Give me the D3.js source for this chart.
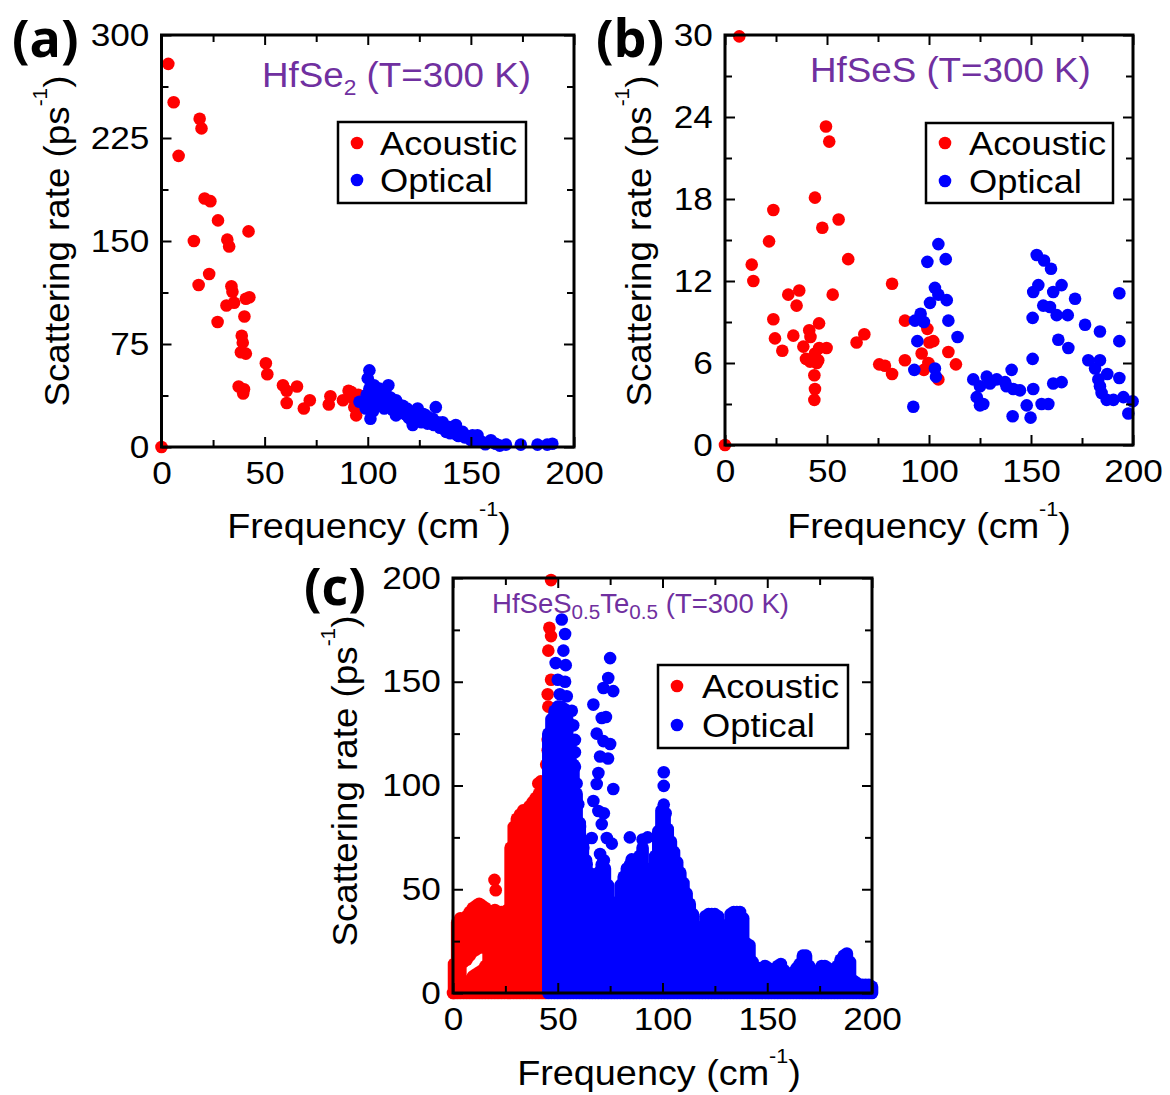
<!DOCTYPE html>
<html>
<head>
<meta charset="utf-8">
<script src="https://cdn.jsdelivr.net/npm/d3@7"></script>
<style>
  body { margin: 0; background: #fff; }
  svg { display: block; }
  text { font-family: "Liberation Sans", Arial, Helvetica, sans-serif; }
</style>
</head>
<body>
<svg id="fig" width="1170" height="1095"></svg>
<script>
// ---- data ----

// (a) HfSe2, [frequency cm-1, scattering rate ps-1]
var acousticA = [[0,0],[3.3,279],[5.9,251],[8.3,212],[18.5,239],[19.4,232],[15.7,150],[20.9,181],[23.7,179],
  [27.4,165],[31.9,151],[32.8,146],[42.2,157],[23.1,126],[18,118],[33.9,117],[34.4,113],[31.5,103],[35.2,105],
  [40.9,108],[42.6,109],[27.2,91],[40.2,95],[38.9,81],[39.4,76],[38.5,69],[40.9,68],[50.6,61],[51.3,53],
  [37.4,44],[40,42],[39.6,39],[58.9,45],[60.7,41],[65.7,44],[60.7,32],[69,28],[71.9,34],[81.9,37],[81.1,31],
  [88,34],[90.7,41],[92.6,36],[94.4,23],[93.5,29],[95.4,38],[92,40],[94,33]];
var opticalA = [[96,33],[97.6,33],[99,28],[99.5,38],[100,50],[100.8,55.8],[100.8,42.5],[101.3,20.6],[102,35],
  [102.5,26],[103,45],[104,30],[104.5,38],[105.6,42.5],[106,33],[107.3,35],[108,28],[108.5,40],[110,45],[110,32],
  [111,36],[112,27],[113.7,34],[113.7,23],[115,31],[116,26],[117,30],[118,24],[119,28],[120,21],[121.8,16],
  [122,24],[123,20],[124.2,28],[125,22],[126,18],[127,24],[128.2,23],[129,17],[130,21],[131.5,20.6],[132,16],
  [133,29],[134,18],[135,14],[136.3,18],[137,13],[138,11],[139.5,14.6],[140,10],[141,12],[142.7,16],[143,9],
  [144,8],[145,11],[146,11],[147,7],[148,8],[150,5],[150.8,8.5],[152,4],[153.2,8.5],[155.6,3.6],[157,2],
  [159.7,4.9],[162,2.4],[164,1],[167,1.7],[174.2,1.7],[182.3,1.7],[187,1.7],[189.5,2.4]];

// (b) HfSeS
var acousticB = [[0,0],[7,29.9],[13.1,13.2],[13.9,12],[21.6,14.9],[23.7,17.2],[31,11],[36.4,11.3],[35.1,10.2],
  [23.7,9.2],[24.5,7.8],[28.1,6.9],[33.5,8],[38.4,7.2],[44.1,18.1],[47.7,15.9],[49.5,23.3],[51.1,22.2],
  [55.7,16.5],[60.4,13.6],[52.8,11],[41.3,8.4],[41.9,7.9],[46.1,8.9],[39.7,6.3],[41.7,6.1],[44.1,6.7],
  [46.2,7.1],[49.8,7.1],[45,6],[45.7,6.2],[43.8,5.1],[44.1,4.1],[43.8,3.3],[64.5,7.5],[68.3,8.1],[75.6,5.9],
  [78.4,5.8],[81.9,5.2],[81.9,11.8],[88.2,9.1],[88.2,6.2],[99.2,8.5],[100.2,7.5],[102.1,7.6],[96.4,6.7],
  [97.5,5.5],[99.7,6],[104.6,4.8],[109.5,6.8],[113.2,5.9]];
var opticalB = [[92.3,2.8],[92.8,5.5],[94.3,7.6],[93.1,9.1],[95.9,9.6],[97.5,9],[99.2,13.4],[104.6,14.7],
  [108.2,13.6],[102.9,11.5],[104.6,11],[100.5,10.4],[108.7,10.6],[109.5,9.1],[114,7.9],[102.9,5.6],[103.4,5],
  [121.7,4.8],[125,4.3],[128.3,5],[123.4,3.5],[126.6,3],[125,2.9],[129.9,4.5],[133.2,4.8],[137.3,4.6],
  [140.5,5.5],[138,4.3],[141.3,4.1],[144.6,4],[141,2.1],[147.9,2.9],[149.8,2],[151.1,4.1],[150.8,6.3],
  [150.8,9.3],[151.1,11.2],[153.6,11.7],[152.8,13.9],[156.4,13.5],[159.8,12.9],[156,10.2],[159.3,10.1],
  [160.9,11.2],[165,11.7],[162.6,9.5],[168,9.5],[171.6,10.7],[163.4,7.7],[168.3,7.1],[160.9,4.5],[165,4.6],
  [155.2,3],[158.5,3],[176.5,8.8],[183.8,8.3],[178.1,6.2],[183.8,6.2],[181.4,5.6],[187.4,5.2],[183,4.8],
  [183.8,4.3],[184.6,3.8],[187.1,3.3],[190.4,3.3],[193.3,11.1],[193.3,7.6],[193.3,4.9],[195.3,3.5],
  [197.7,2.3],[199.8,3.2]];

// (c) HfSeS0.5Te0.5: isolated points
var acousticC = [[0,0],[1.3,10],[19.8,54.5],[20.4,49.5],[46.8,199],[46,176],[46.8,172],[45.5,165],[46.8,151],
  [45.2,144],[45.5,138],[45.2,122],[45.2,117],[44.5,110],[40.7,101],[41.9,102]];
var opticalC = [[51.9,180],[53.5,173],[52.7,165],[49,159],[53.8,158],[50,151],[53.5,150],[54.3,143],[51,144],
  [56.7,136],[57.4,129],[58.2,122],[58.2,116],[58.2,109],[59,101],[59.8,91],[60.6,80],[62.2,70],[63.8,62],
  [65.4,51],[75,161.4],[74.1,151.8],[71.8,147],[76.5,145.5],[67,139],[71,132.5],[73,133],[68.6,125],
  [71.8,121.4],[75,120],[70.2,114],[74,113],[69.4,106],[68.6,100.7],[76.5,98.3],[67,92.5],[69.4,87.7],
  [72,86.6],[71,81.4],[66.2,74.7],[73.4,74.7],[75.8,72],[70.2,67],[72,64],[84.4,75],[85.3,64.4],[92.9,75],
  [90.5,74],[100.6,106.4],[100.6,99.8],[100.6,90.8],[101.5,86.6]];

// (c) solid clouds: [frequency, lowest rate, highest rate] per narrow frequency column
var acousticBandsC = [[0.5,0,14],[2,0,34],[3.5,0,36],[5,0,4],[5,15,35],[6.5,0,5],[6.5,16,37],[8,0,6],[8,18,39],
  [9.5,0,8],[9.5,20,41],[11,0,9],[11,21,42],[12.5,0,10],[12.5,22,43],[14,0,11],[14,22,42],[15.5,0,13],
  [15.5,23,41],[17,0,39],[18.5,0,38],[20,0,40],[21.5,0,38],[23,0,39],[24.5,0,37],[26,0,40],[27.5,0,70],
  [29,0,80],[30.5,0,84],[32,0,86],[33.5,0,88],[35,0,88],[36.5,0,90],[38,0,92],[39.5,0,94],[41,0,96],
  [42.5,0,98],[44,0,100]];
var opticalBandsC = [[45.5,0,125],[47,0,132],[48.5,0,136],[50,0,138],[51.5,0,138],[53,0,137],[54.5,0,132],
  [56,0,122],[57.5,0,110],[59,0,96],[60.5,0,82],[62,0,72],[63.5,0,64],[65,0,58],[66.5,0,55],[68,0,52],
  [69.5,0,58],[71,0,62],[72.5,0,60],[74,0,52],[75.5,0,44],[77,0,18],[78.5,0,40],[80,0,52],[81.5,0,56],
  [83,0,60],[84.5,0,62],[86,0,58],[87.5,0,60],[89,0,66],[90.5,0,70],[92,0,60],[93.5,0,45],[95,0,52],
  [96.5,0,66],[98,0,78],[99.5,0,88],[101,0,85],[102.5,0,79],[104,0,73],[105.5,0,68],[107,0,63],[108.5,0,58],
  [110,0,53],[111.5,0,48],[113,0,43],[114.5,0,38],[116,0,17],[117.5,0,22],[119,0,32],[120.5,0,37],
  [122,0,38],[123.5,0,38],[125,0,38],[126.5,0,37],[128,0,33],[129.5,0,19],[131,0,32],[132.5,0,38],
  [134,0,39],[135.5,0,39],[137,0,39],[138.5,0,36],[140,0,24],[141.5,0,23],[143,0,15],[144.5,0,12],
  [146,0,12],[147.5,0,12],[149,0,13],[150.5,0,12],[152,0,10],[153.5,0,11],[155,0,13],[156.5,0,14],
  [158,0,11],[159.5,0,9],[161,0,8],[162.5,0,10],[164,0,12],[165.5,0,14],[167,0,18],[168.5,0,18],
  [170,0,13],[171.5,0,9],[173,0,9],[174.5,0,11],[176,0,13],[177.5,0,13],[179,0,12],[180.5,0,9],
  [182,0,11],[183.5,0,13],[185,0,16],[186.5,0,18],[188,0,19],[189.5,0,15],[191,0,6],[192.5,0,5],
  [194,0,4],[195.5,0,4],[197,0,4],[198.5,0,4],[200,0,3]];

// ticks
var freqMajor = [0, 50, 100, 150, 200];
var freqMinor = [25, 75, 125, 175];
var rateMajorA = [0, 75, 150, 225, 300];
var rateMinorA = [37.5, 112.5, 187.5, 262.5];
var rateMajorB = [0, 6, 12, 18, 24, 30];
var rateMinorB = [3, 9, 15, 21, 27];
var rateMajorC = [0, 50, 100, 150, 200];
var rateMinorC = [25, 75, 125, 175];

var seriesNames = ["Acoustic", "Optical"];

// ---- drawing ----
var RED = "#ff0000", BLUE = "#0000ff", PURPLE = "#7030a0";
var R = 6.3;
var svg = d3.select("#fig");

// text with sub/superscript parts, stretched a little horizontally like the original font
function addText(g, x, y, parts, size, sx, opt) {
  opt = opt || {};
  var t = g.append("text")
    .attr("transform", "translate(" + x + "," + y + ")" + (opt.rotate ? " rotate(-90)" : "") + " scale(" + sx + ",1)")
    .attr("font-size", size)
    .attr("fill", opt.fill || "#000")
    .attr("text-anchor", opt.anchor || "start")
    .attr("font-weight", opt.weight || "normal");
  if (opt.family) t.style("font-family", opt.family);
  var shift = 0;
  parts.forEach(function(p) {
    var s = typeof p === "string" ? p : p[0];
    var kind = typeof p === "string" ? "" : p[1];
    var target = 0, fs = size;
    if (kind === "sub") { target = size * 0.24; fs = size * (opt.subScale || 0.62); }
    if (kind === "sup") { target = -size * 0.62; fs = size * 0.57; }
    t.append("tspan").attr("dy", target - shift).attr("font-size", fs).text(s);
    shift = target;
  });
  return t;
}

function drawPanel(p) {
  var g = svg.append("g");
  var x = d3.scaleLinear().domain([0, 200]).range([p.left, p.right]);
  var y = d3.scaleLinear().domain([0, p.yMax]).range([p.bottom, p.top]);

  function bands(data, color) {
    g.append("g").selectAll("line").data(data || []).join("line")
      .attr("x1", d => x(d[0])).attr("x2", d => x(d[0]))
      .attr("y1", d => y(d[1])).attr("y2", d => y(d[2]))
      .attr("stroke", color).attr("stroke-width", 2 * R).attr("stroke-linecap", "round");
  }
  function dots(data, color) {
    g.append("g").selectAll("circle").data(data).join("circle")
      .attr("cx", d => x(d[0])).attr("cy", d => y(d[1])).attr("r", R).attr("fill", color);
  }
  bands(p.acousticBands, RED);
  dots(p.acoustic, RED);
  bands(p.opticalBands, BLUE);
  dots(p.optical, BLUE);

  // axes with inward ticks on all four sides
  function axis(gen, scale, vals, size, tr, labels, pad) {
    var a = gen(scale).tickValues(vals).tickSize(-size).tickPadding(pad || 0);
    if (!labels) a.tickFormat("");
    var ag = g.append("g").attr("transform", tr).call(a);
    ag.select(".domain").remove();
    ag.selectAll("line").attr("stroke", "#000").attr("stroke-width", 2);
    ag.selectAll("text").attr("font-size", 32).attr("fill", "#000")
      .style("font-family", '"Liberation Sans", Arial, sans-serif');
    return ag;
  }
  var xl = axis(d3.axisBottom, x, freqMajor, 10, "translate(0," + p.bottom + ")", true, 14);
  xl.selectAll("text").attr("transform", "scale(1.1,1)");
  axis(d3.axisBottom, x, freqMinor, 7, "translate(0," + p.bottom + ")");
  axis(d3.axisTop, x, freqMajor, 10, "translate(0," + p.top + ")");
  axis(d3.axisTop, x, freqMinor, 7, "translate(0," + p.top + ")");
  var yl = axis(d3.axisLeft, y, p.yMajor, 10, "translate(" + p.left + ",0)", true, 11);
  yl.selectAll("text").attr("transform", "scale(1.1,1)");
  axis(d3.axisLeft, y, p.yMinor, 7, "translate(" + p.left + ",0)");
  axis(d3.axisRight, y, p.yMajor, 10, "translate(" + p.right + ",0)");
  axis(d3.axisRight, y, p.yMinor, 7, "translate(" + p.right + ",0)");

  g.append("rect").attr("x", p.left).attr("y", p.top)
    .attr("width", p.right - p.left).attr("height", p.bottom - p.top)
    .attr("fill", "none").attr("stroke", "#000").attr("stroke-width", 3);

  // axis titles
  addText(g, p.xTitle[0], p.xTitle[1], ["Frequency (cm", ["-1", "sup"], [")", ""]], 35, 1.08, { anchor: "middle" });
  addText(g, p.yTitle[0], p.yTitle[1], ["Scattering rate (ps", ["-1", "sup"], [")", ""]], 35, 1.05,
    { anchor: "middle", rotate: true });

  // compound title
  addText(g, p.title[0], p.title[1], p.titleParts, p.titleSize, p.titleSx, { fill: PURPLE, subScale: p.subScale });

  // panel letter
  addText(g, p.letter[0], p.letter[1], [p.letterText], 52, 1, { weight: "bold", family: '"Open Sans", sans-serif' });

  // legend
  var L = p.legend;
  g.append("rect").attr("x", L.box[0]).attr("y", L.box[1])
    .attr("width", L.box[2] - L.box[0]).attr("height", L.box[3] - L.box[1])
    .attr("fill", "#fff").attr("stroke", "#000").attr("stroke-width", 2.5);
  seriesNames.forEach(function(name, i) {
    g.append("circle").attr("cx", L.dotX).attr("cy", L.rows[i]).attr("r", R).attr("fill", i ? BLUE : RED);
    addText(g, L.textX, L.rows[i] + 12, [name], 33, 1.1);
  });
}

drawPanel({
  left: 161.5, right: 574, top: 35, bottom: 447, yMax: 300,
  yMajor: rateMajorA, yMinor: rateMinorA,
  acoustic: acousticA, optical: opticalA,
  xTitle: [369, 538], yTitle: [69, 241],
  title: [262, 87], titleSize: 35, titleSx: 1.05,
  titleParts: ["HfSe", ["2", "sub"], [" (T=300 K)", ""]],
  letter: [12, 57], letterText: "(a)",
  legend: { box: [338, 122, 526, 203], dotX: 357, rows: [143, 180], textX: 380 }
});

drawPanel({
  left: 725, right: 1133, top: 35, bottom: 445, yMax: 30,
  yMajor: rateMajorB, yMinor: rateMinorB,
  acoustic: acousticB, optical: opticalB,
  xTitle: [929, 538], yTitle: [651, 241],
  title: [810, 82], titleSize: 35, titleSx: 1.05,
  titleParts: ["HfSeS (T=300 K)"],
  letter: [596, 57], letterText: "(b)",
  legend: { box: [926, 123, 1113, 203], dotX: 945, rows: [143, 181], textX: 969 }
});

drawPanel({
  left: 453, right: 872, top: 578, bottom: 993, yMax: 200,
  yMajor: rateMajorC, yMinor: rateMinorC,
  acoustic: acousticC, optical: opticalC,
  acousticBands: acousticBandsC, opticalBands: opticalBandsC,
  xTitle: [659, 1085], yTitle: [357, 781],
  title: [492, 613], titleSize: 27, titleSx: 1.02, subScale: 0.75,
  titleParts: ["HfSeS", ["0.5", "sub"], ["Te", ""], ["0.5", "sub"], [" (T=300 K)", ""]],
  letter: [304, 605], letterText: "(c)",
  legend: { box: [658, 665, 848, 748], dotX: 677, rows: [686, 725], textX: 702 }
});
</script>
</body>
</html>
